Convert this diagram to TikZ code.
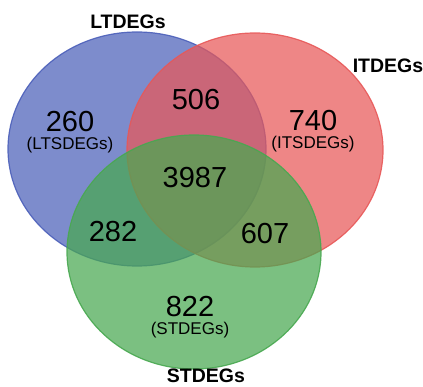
\documentclass[tikz,border=0pt]{standalone}
\usepackage{fontspec}
\setmainfont{Liberation Sans}
\usetikzlibrary{positioning}

\definecolor{ltblue}{RGB}{75,95,185}
\definecolor{itred}{RGB}{231,88,88}
\definecolor{stgreen}{RGB}{72,168,80}

\begin{document}
\begin{tikzpicture}[x=1pt,y=-1pt,
        set/.style={fill opacity=0.72,draw opacity=0.9,line width=1.2pt},
        count/.style={font=\fontsize{29}{29}\selectfont,inner sep=0pt},
        sub/.style={font=\fontsize{17}{17}\selectfont,inner sep=0pt},
        title/.style={font=\fontsize{19.5}{19.5}\selectfont\bfseries,inner sep=0pt}]
        \useasboundingbox (0,0) rectangle (423,387);
        %\draw[very thin,color=gray] (0,0) grid[step=50] (423,387);
        \filldraw[set,draw=ltblue,fill=ltblue] (137,149) ellipse [x radius=129,y radius=117];
        \filldraw[set,draw=itred,fill=itred] (255,150) ellipse [x radius=128,y radius=117];
        \filldraw[set,draw=stgreen,fill=stgreen] (194,252) ellipse [x radius=127,y radius=117];
        \node[title] (lt) at (128,22) {LTDEGs};
        \node[title] (it) at (388,66) {ITDEGs};
        \node[title] (st) at (206,376) {STDEGs};
        \node[count] (lonly) at (70,122) {260};
        \node[sub,below=5pt of lonly] (lname) {(LTSDEGs)};
        \node[count] (lit) at (196,100) {506};
        \node[count] (ionly) at (313,121) {740};
        \node[sub,below=5pt of ionly] (iname) {(ITSDEGs)};
        \node[count] (all) at (195,178) {3987};
        \node[count] (lst) at (113,232) {282};
        \node[count] (ist) at (265,234) {607};
        \node[count] (sonly) at (190,307) {822};
        \node[sub,below=5pt of sonly] (sname) {(STDEGs)};
    \end{tikzpicture}
\end{document}
